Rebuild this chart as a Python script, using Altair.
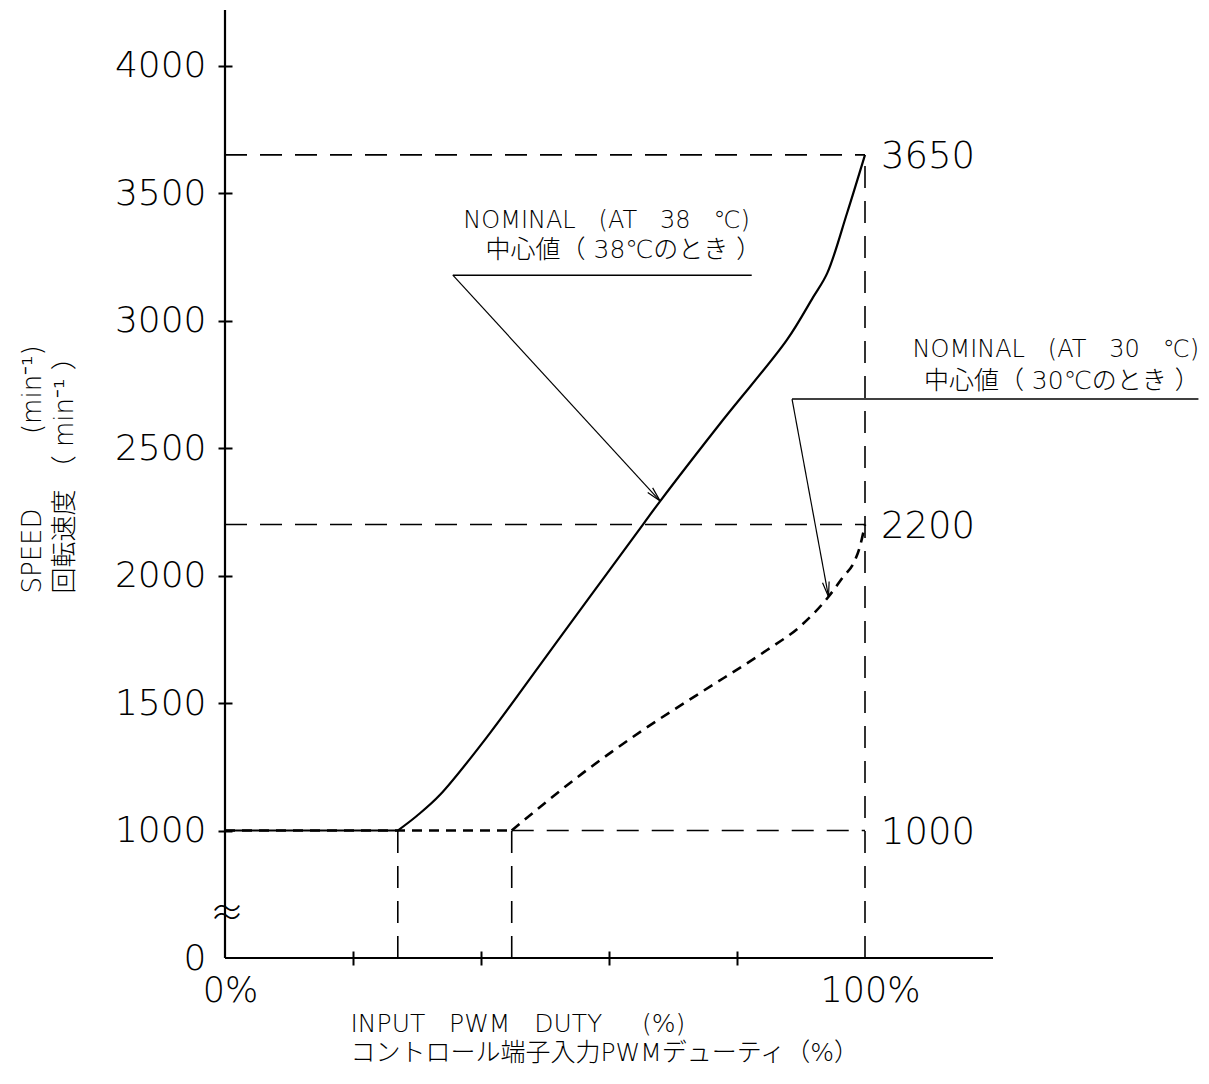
import math
import altair as alt
import pandas as pd

NB = "\u00a0"
FONT = "DejaVu Sans, Noto Sans CJK JP"

# ---------------- data ----------------
# 38°C nominal curve: flat part and rising part
duty38_flat = [0, 27]
speed38_flat = [1000, 1000]
duty38 = [27, 30, 33.6, 41.4, 49.2, 57, 65.3, 68, 77.8, 87.8, 91.9, 94.1, 97.2, 100]
speed38 = [1000, 1058, 1140, 1382, 1649, 1916, 2200, 2292, 2610, 2924, 3092, 3186, 3422, 3650]

# 30°C nominal curve: flat part and rising part
duty30_flat = [0, 27, 44.8]
speed30_flat = [1000, 1000, 1000]
duty30 = [44.8, 55.9, 65.3, 74.2, 84.7, 89.8, 94.3, 96.6, 98.2, 99.2, 100]
speed30 = [1000, 1225, 1394, 1539, 1708, 1799, 1917, 1995, 2048, 2113, 2200]

# dashed reference lines
ref_x = [0, 0, 44.8, 100, 27, 44.8]
ref_x2 = [100, 100, 100, 100, 27, 44.8]
ref_y = [3650, 2200, 1000, 500, 500, 500]
ref_y2 = [3650, 2200, 1000, 3650, 1000, 1000]

# value labels at the right
val_labels = [3650, 2200, 1000]

# annotation leader lines (start at underline, end at curve)
lead_x = [35.6, 88.6]
lead_y = [3178, 2692]
lead_x2 = [68.0, 94.3]
lead_y2 = [2292, 1917]
ul_x2 = [82.3, 152.1]

ann_text = [
    f"NOMINAL{NB*3}(AT{NB*3}38{NB*3}℃)",
    f"中心値（{NB}38℃のとき{NB}）",
    f"NOMINAL{NB*3}(AT{NB*3}30{NB*3}℃)",
    f"中心値（{NB}30℃のとき{NB}）",
]
ann_x = [82.0, 83.8, 152.2, 152.3]
ann_y = [3363, 3245, 2857, 2731]
ann_size = [24, 25, 24, 25]

x_ticks = [0, 20, 40, 60, 80, 100]
y_ticks = [500, 1000, 1500, 2000, 2500, 3000, 3500, 4000]
X_DOM = [0, 120]
Y_DOM = [500, 4218]
W, H = 768, 948

# ---------------- encodings ----------------
xscale = alt.Scale(domain=X_DOM, nice=False, zero=False)
yscale = alt.Scale(domain=Y_DOM, nice=False, zero=False)

xaxis = alt.Axis(
    values=x_ticks,
    labelExpr="datum.value==0 ? '0%' : (datum.value==100 ? '100%' : '')",
    domain=False, grid=False, offset=-7, tickSize=14, tickWidth=2,
    tickColor={"condition": {"test": "datum.value==0 || datum.value==100", "value": "transparent"}, "value": "black"},
    labelFont=FONT, labelFontSize=35, labelFontWeight=200, labelColor="black",
    labelPadding=8, labelOffset=5, labelFlush=False,
    title=[f"INPUT{NB*3}PWM{NB*3}DUTY{NB*5}(%)", "コントロール端子入力PWMデューティ（%）"],
    titleFont=FONT, titleFontSize=25, titleFontWeight=200, titleColor="black",
    titleAlign="left", titleX=125, titleY=80, titleBaseline="alphabetic", titleLineHeight=29,
)
yaxis = alt.Axis(
    values=y_ticks, format="d",
    labelExpr="datum.value==500 ? '0' : datum.label",
    domain=False, grid=False, offset=-7, tickSize=14, tickWidth=2,
    tickColor={"condition": {"test": "datum.value==500", "value": "transparent"}, "value": "black"},
    labelFont=FONT, labelFontSize=36, labelFontWeight=200, labelColor="black",
    labelPadding=12, labelFlush=False,
    title=[f"SPEED{NB*9}(min⁻¹)", f"回転速度{NB}（{NB}min⁻¹{NB}）"],
    titleFont=FONT, titleFontSize=26, titleFontWeight=200, titleColor="black",
    titleAngle=270, titleAlign="left", titleBaseline="alphabetic",
    titleX=-192, titleY=583, titleLineHeight=32,
)


def X(f="x"):
    return alt.X(f, type="quantitative", scale=xscale, axis=xaxis)


def Y(f="y"):
    return alt.Y(f, type="quantitative", scale=yscale, axis=yaxis)


# ---------------- layers ----------------
df38 = pd.concat([
    pd.DataFrame({"x": duty38_flat, "y": speed38_flat, "seg": "flat"}),
    pd.DataFrame({"x": duty38, "y": speed38, "seg": "rise"}),
])
df30 = pd.concat([
    pd.DataFrame({"x": duty30_flat, "y": speed30_flat, "seg": "flat"}),
    pd.DataFrame({"x": duty30, "y": speed30, "seg": "rise"}),
])

curve38 = alt.Chart(df38).mark_line(color="black", strokeWidth=2.2, interpolate="catmull-rom").encode(
    x=X(), y=Y(), detail="seg:N")
curve30 = alt.Chart(df30).mark_line(color="black", strokeWidth=2.6, strokeDash=[10, 7],
                                    interpolate="monotone").encode(x=X(), y=Y(), detail="seg:N")

axes_df = pd.DataFrame({"x": [0, 0], "x2": [0, X_DOM[1]], "y": [Y_DOM[0], Y_DOM[0]], "y2": [Y_DOM[1], Y_DOM[0]]})
axes_lines = alt.Chart(axes_df).mark_rule(color="black", strokeWidth=2.2).encode(
    x=X(), x2="x2", y=Y(), y2="y2")

ref_df = pd.DataFrame({"x": ref_x, "x2": ref_x2, "y": ref_y, "y2": ref_y2})
ref_lines = alt.Chart(ref_df).mark_rule(color="black", strokeWidth=1.6, strokeDash=[22, 13]).encode(
    x=X(), x2="x2", y=Y(), y2="y2")

lead_df = pd.DataFrame({"x": lead_x, "y": lead_y, "x2": lead_x2, "y2": lead_y2})
leaders = alt.Chart(lead_df).mark_rule(color="black", strokeWidth=1.2).encode(
    x=X(), x2="x2", y=Y(), y2="y2")

ul_df = pd.DataFrame({"x": lead_x, "x2": ul_x2, "y": lead_y})
underlines = alt.Chart(ul_df).mark_rule(color="black", strokeWidth=1.5).encode(
    x=X(), x2="x2", y=Y())

# arrow heads, rotated along leader direction
sx = W / (X_DOM[1] - X_DOM[0])
sy = H / (Y_DOM[1] - Y_DOM[0])
angles = []
for a, b, c, d in zip(lead_x, lead_y, lead_x2, lead_y2):
    dx = (c - a) * sx
    dy = -(d - b) * sy
    angles.append((math.degrees(math.atan2(dx, -dy)) + 360) % 360)
arrow_df = pd.DataFrame({"x": lead_x2, "y": lead_y2, "ang": angles})
arrows = alt.Chart(arrow_df).mark_point(
    shape="M-0.45,2L0,0L0.45,2", filled=False, color="black", strokeWidth=1.2, size=220, opacity=1
).encode(x=X(), y=Y(), angle=alt.Angle("ang:Q", scale=None))

ann_df = pd.DataFrame({"x": ann_x, "y": ann_y, "t": ann_text, "fs": ann_size})
ann = alt.Chart(ann_df).mark_text(
    align="right", baseline="alphabetic", font=FONT, fontWeight=200, color="black"
).encode(x=X(), y=Y(), text="t:N", size=alt.Size("fs:Q", scale=None, legend=None))

val_df = pd.DataFrame({"x": [100] * 3, "y": val_labels, "t": [str(v) for v in val_labels]})
vals = alt.Chart(val_df).mark_text(
    align="left", baseline="middle", dx=16, dy=2, font=FONT, fontSize=37, fontWeight=200, color="black"
).encode(x=X(), y=Y(), text="t:N")

brk_df = pd.DataFrame({"x": [0], "y": [669], "t": ["≈"]})
brk = alt.Chart(brk_df).mark_text(
    align="center", baseline="middle", dx=2, font=FONT, fontSize=34, fontWeight=200, color="black"
).encode(x=X(), y=Y(), text="t:N")

chart = alt.layer(
    curve38, curve30, axes_lines, ref_lines, leaders, underlines, arrows, ann, vals, brk
).properties(
    width=W, height=H,
    autosize=alt.AutoSizeParams(type="none"),
    padding={"left": 217, "top": 2, "right": 208, "bottom": 110},
    background="white",
).configure_view(stroke=None)

chart.save("out.html", embed_options={"renderer": "svg", "actions": False})
